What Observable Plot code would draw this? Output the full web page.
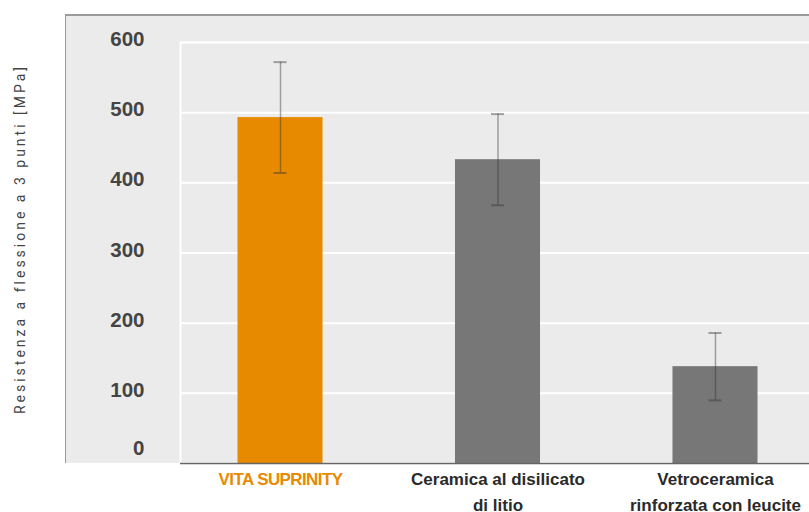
<!DOCTYPE html>
<html>
<head>
<meta charset="utf-8">
<script src="https://cdn.jsdelivr.net/npm/d3@7"></script>
<script src="https://cdn.jsdelivr.net/npm/@observablehq/plot@0.6"></script>
<style>
  html, body { margin: 0; padding: 0; overflow: hidden; background: #fff; }
  #wrap { position: relative; width: 809px; height: 512px; overflow: hidden; }
  #panel { position: absolute; left: 65px; top: 14px; width: 800px; height: 449px;
           background: #ebebeb; border-top: 2px solid #9a9a9a; border-left: 1px solid #9a9a9a; box-sizing: border-box; }
  #chart { position: absolute; left: 0; top: 0; width: 815px; }
  #chart svg { max-width: none !important; }
  g[font-family^="Roboto"] text { letter-spacing: 3px; }
  g[fill="#e88a00"][font-size="17"] text { letter-spacing: -0.6px; }
</style>
</head>
<body>
<div id="wrap">
  <div id="panel"></div>
  <div id="chart"></div>
</div>
<script>
// ---- data ----
const categories = ["VITA SUPRINITY", "Ceramica al disilicato\ndi litio", "Vetroceramica\nrinforzata con leucite"];
const means = [493, 433, 138];
const stdDev = [79, 65, 48];
const barColors = ["#e88a00", "#777777", "#777777"];
const highlightColor = "#e88a00";
const labelColor = "#2a2a2a";
const yTicks = [0, 100, 200, 300, 400, 500, 600];
const yTitle = "Resistenza a flessione a 3 punti [MPa]";

const rows = categories.map((c, i) => ({
  cat: c, mean: means[i], lo: means[i] - stdDev[i], hi: means[i] + stdDev[i], fill: barColors[i]
}));

const sans = "Liberation Sans, Arial, sans-serif";

const plot = Plot.plot({
  width: 815,
  height: 512,
  marginLeft: 180,
  marginRight: 0,
  marginTop: 42,
  marginBottom: 49,
  style: { background: "transparent", overflow: "visible", maxWidth: "none" },
  x: { domain: categories, paddingInner: 0.609, paddingOuter: 0.2644, round: false, axis: null },
  y: { domain: [0, 600], axis: null },
  marks: [
    Plot.ruleY(yTicks, { stroke: "#ffffff", strokeWidth: 2 }),
    Plot.frame({ stroke: "#ffffff", strokeWidth: 2, fill: "none" }),
    Plot.barY(rows, { x: "cat", y: "mean", fill: "fill" }),
    Plot.ruleX(rows, { x: "cat", y1: "lo", y2: "hi", stroke: "#333", strokeOpacity: 0.42, strokeWidth: 1.5 }),
    Plot.tickY(rows, { x: "cat", y: "lo", stroke: "#333", strokeOpacity: 0.42, strokeWidth: 2, insetLeft: 36, insetRight: 36 }),
    Plot.tickY(rows, { x: "cat", y: "hi", stroke: "#333", strokeOpacity: 0.42, strokeWidth: 2, insetLeft: 36, insetRight: 36 }),
    Plot.ruleY([0], { stroke: "#666", strokeWidth: 1.5 }),
    // y tick labels
    Plot.text(yTicks.filter(d => d !== 0), {
      y: d => d, text: d => String(d), frameAnchor: "left", dx: -36, dy: -3, textAnchor: "end",
      fill: "#444", fontFamily: sans, fontWeight: "bold", fontSize: 20.5
    }),
    Plot.text(yTicks.filter(d => d === 0), {
      y: d => d, text: d => String(d), frameAnchor: "left", dx: -36, dy: -15, textAnchor: "end",
      fill: "#444", fontFamily: sans, fontWeight: "bold", fontSize: 20.5
    }),
    // x category labels
    Plot.text(rows.slice(0, 1), {
      x: "cat", text: "cat", frameAnchor: "bottom", lineAnchor: "top", dy: 3, lineHeight: 1.52,
      fill: highlightColor, fontFamily: sans, fontWeight: "bold", fontSize: 17
    }),
    Plot.text(rows.slice(1), {
      x: "cat", text: "cat", frameAnchor: "bottom", lineAnchor: "top", dy: 3, lineHeight: 1.52,
      fill: labelColor, fontFamily: sans, fontWeight: "bold", fontSize: 17
    }),
    // y title
    Plot.text([yTitle], {
      text: d => d, frameAnchor: "left", textAnchor: "middle", dx: -160, dy: -14, rotate: -90,
      fill: "#444", fontFamily: "Roboto, DejaVu Sans, sans-serif", fontSize: 14
    })
  ]
});

document.getElementById("chart").appendChild(plot);
</script>
</body>
</html>
